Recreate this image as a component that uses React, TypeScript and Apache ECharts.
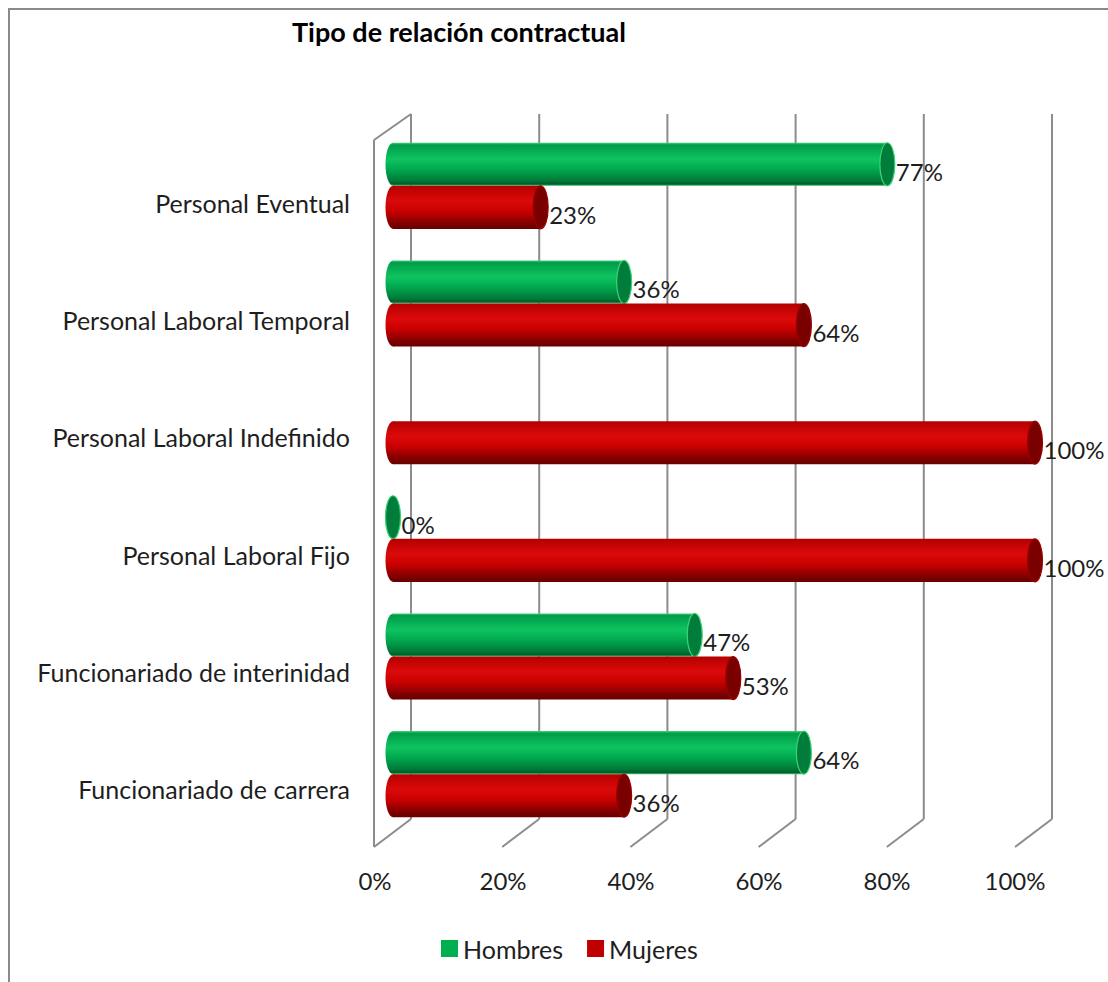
import React, { useEffect, useRef } from "react";
import * as echarts from "echarts";

const categories = [
  "Personal Eventual",
  "Personal Laboral Temporal",
  "Personal Laboral Indefinido",
  "Personal Laboral Fijo",
  "Funcionariado de interinidad",
  "Funcionariado de carrera",
];
const hombres: (number | null)[] = [77, 36, null, 0, 47, 64];
const mujeres: (number | null)[] = [23, 64, 100, 100, 53, 36];
const ticks = [0, 20, 40, 60, 80, 100];

const FONT = "Lato, 'Liberation Sans', sans-serif";
const TEXT = "#1e1e1e";
const GRID_LINE = "#8c8c8c";

function greenBody() {
  return new echarts.graphic.LinearGradient(0, 0, 0, 1, [
    { offset: 0, color: "#3fd47a" },
    { offset: 0.05, color: "#009c4a" },
    { offset: 0.38, color: "#0fc35f" },
    { offset: 0.62, color: "#00a84f" },
    { offset: 0.88, color: "#007a38" },
    { offset: 0.96, color: "#005c2a" },
    { offset: 1, color: "#3cc772" },
  ]);
}
function redBody() {
  return new echarts.graphic.LinearGradient(0, 0, 0, 1, [
    { offset: 0, color: "#b40000" },
    { offset: 0.35, color: "#dc0a0a" },
    { offset: 0.6, color: "#c80000" },
    { offset: 0.88, color: "#7e0000" },
    { offset: 1, color: "#680000" },
  ]);
}

function makeCylinderRender(top: boolean) {
  return (params: any, api: any) => {
    const v = api.value(0);
    if (v === null || v === undefined || isNaN(v)) return null;
    const i = api.value(1);
    const p0 = api.coord([0, i]);
    const p1 = api.coord([v, i]);
    const band = api.size([0, 1])[1];
    const h = band * 0.366;
    const y0 = top ? p0[1] - h : p0[1];
    const yc = y0 + h / 2;
    const rx = 7.5;
    const body = top ? greenBody() : redBody();
    const capFill = top ? "#007d3a" : "#7a0000";
    const capStroke = top ? "#3ad477" : "#9a0000";
    return {
      type: "group",
      children: [
        {
          type: "ellipse",
          shape: { cx: p0[0], cy: yc, rx, ry: h / 2 },
          style: { fill: body },
        },
        {
          type: "rect",
          shape: { x: p0[0], y: y0, width: Math.max(0, p1[0] - p0[0]), height: h },
          style: { fill: body },
        },
        {
          type: "ellipse",
          shape: { cx: p1[0], cy: yc, rx, ry: h / 2 },
          style: { fill: capFill, stroke: capStroke, lineWidth: 1.2 },
        },
        {
          type: "text",
          style: {
            text: v + "%",
            x: p1[0] + rx + 1,
            y: yc + 7,
            align: "left",
            verticalAlign: "middle",
            fill: TEXT,
            fontSize: 24,
            fontFamily: FONT,
          },
        },
      ],
    };
  };
}

function gridRender(params: any, api: any) {
  const v = api.value(0);
  const b = api.coord([v, 0]);
  const t = api.coord([v, 1]);
  const dx = -37;
  const dyB = 28;
  const dyT = 26;
  const st = { stroke: GRID_LINE, lineWidth: 2 };
  const children: any[] = [
    { type: "line", shape: { x1: b[0], y1: b[1], x2: t[0], y2: t[1] }, style: st },
    { type: "line", shape: { x1: b[0], y1: b[1], x2: b[0] + dx, y2: b[1] + dyB }, style: st },
  ];
  if (params.dataIndex === 0) {
    children.push(
      { type: "line", shape: { x1: t[0], y1: t[1], x2: t[0] + dx, y2: t[1] + dyT }, style: st },
      {
        type: "line",
        shape: { x1: t[0] + dx, y1: t[1] + dyT, x2: b[0] + dx, y2: b[1] + dyB },
        style: st,
      }
    );
  }
  return { type: "group", children };
}

export default function App() {
  const ref = useRef<HTMLDivElement>(null);
  useEffect(() => {
    if (!ref.current) return;
    const chart = echarts.init(ref.current, null, { renderer: "svg" });
    chart.setOption({
      animation: false,
      backgroundColor: "#ffffff",
      title: {
        text: "Tipo de relación contractual",
        left: 292,
        top: 18,
        padding: 0,
        textStyle: { fontSize: 27, fontWeight: "bold", fontFamily: FONT, color: "#000" },
      },
      legend: {
        data: ["Hombres", "Mujeres"],
        left: 441,
        top: 936,
        padding: 0,
        icon: "rect",
        itemWidth: 17,
        itemHeight: 17,
        itemGap: 24,
        textStyle: { fontSize: 25, fontFamily: FONT, color: TEXT },
      },
      graphic: [
        {
          type: "rect",
          shape: { x: 9, y: 9, width: 1300, height: 1300 },
          style: { fill: "none", stroke: "#8a8a8a", lineWidth: 2 },
          silent: true,
        },
      ],
      grid: [
        { left: 393, width: 642, top: 127, height: 706 },
        { left: 375, width: 640, top: 144, height: 704 },
        { left: 411, width: 641, top: 114, height: 705 },
      ],
      xAxis: [
        { gridIndex: 0, type: "value", min: 0, max: 100, show: false },
        {
          gridIndex: 1,
          type: "value",
          min: 0,
          max: 100,
          interval: 20,
          axisLine: { show: false },
          axisTick: { show: false },
          splitLine: { show: false },
          axisLabel: {
            formatter: "{value}%",
            margin: 20,
            fontSize: 24,
            fontFamily: FONT,
            color: TEXT,
          },
        },
        { gridIndex: 2, type: "value", min: 0, max: 100, show: false },
      ],
      yAxis: [
        { gridIndex: 0, type: "category", data: categories, inverse: true, show: false },
        {
          gridIndex: 1,
          type: "category",
          data: categories,
          inverse: true,
          axisLine: { show: false },
          axisTick: { show: false },
          splitLine: { show: false },
          axisLabel: { margin: 25, fontSize: 25, fontFamily: FONT, color: TEXT },
        },
        { gridIndex: 2, type: "value", min: 0, max: 1, show: false },
      ],
      series: [
        {
          name: "grid",
          type: "custom",
          xAxisIndex: 2,
          yAxisIndex: 2,
          z: 1,
          silent: true,
          encode: { x: 0, y: 1 },
          data: ticks.map((t) => [t, 0]),
          renderItem: gridRender,
        },
        {
          name: "Hombres",
          type: "custom",
          xAxisIndex: 0,
          yAxisIndex: 0,
          z: 3,
          itemStyle: { color: "#00b050" },
          encode: { x: 0, y: 1 },
          data: hombres.map((v, i) => [v === null ? "-" : v, i]),
          renderItem: makeCylinderRender(true),
        },
        {
          name: "Mujeres",
          type: "custom",
          xAxisIndex: 0,
          yAxisIndex: 0,
          z: 3,
          itemStyle: { color: "#c00000" },
          encode: { x: 0, y: 1 },
          data: mujeres.map((v, i) => [v === null ? "-" : v, i]),
          renderItem: makeCylinderRender(false),
        },
      ],
    });
    return () => chart.dispose();
  }, []);
  return (
    <div
      ref={ref}
      style={{ position: "absolute", left: 0, top: 0, width: 1108, height: 982, background: "#fff" }}
    />
  );
}
